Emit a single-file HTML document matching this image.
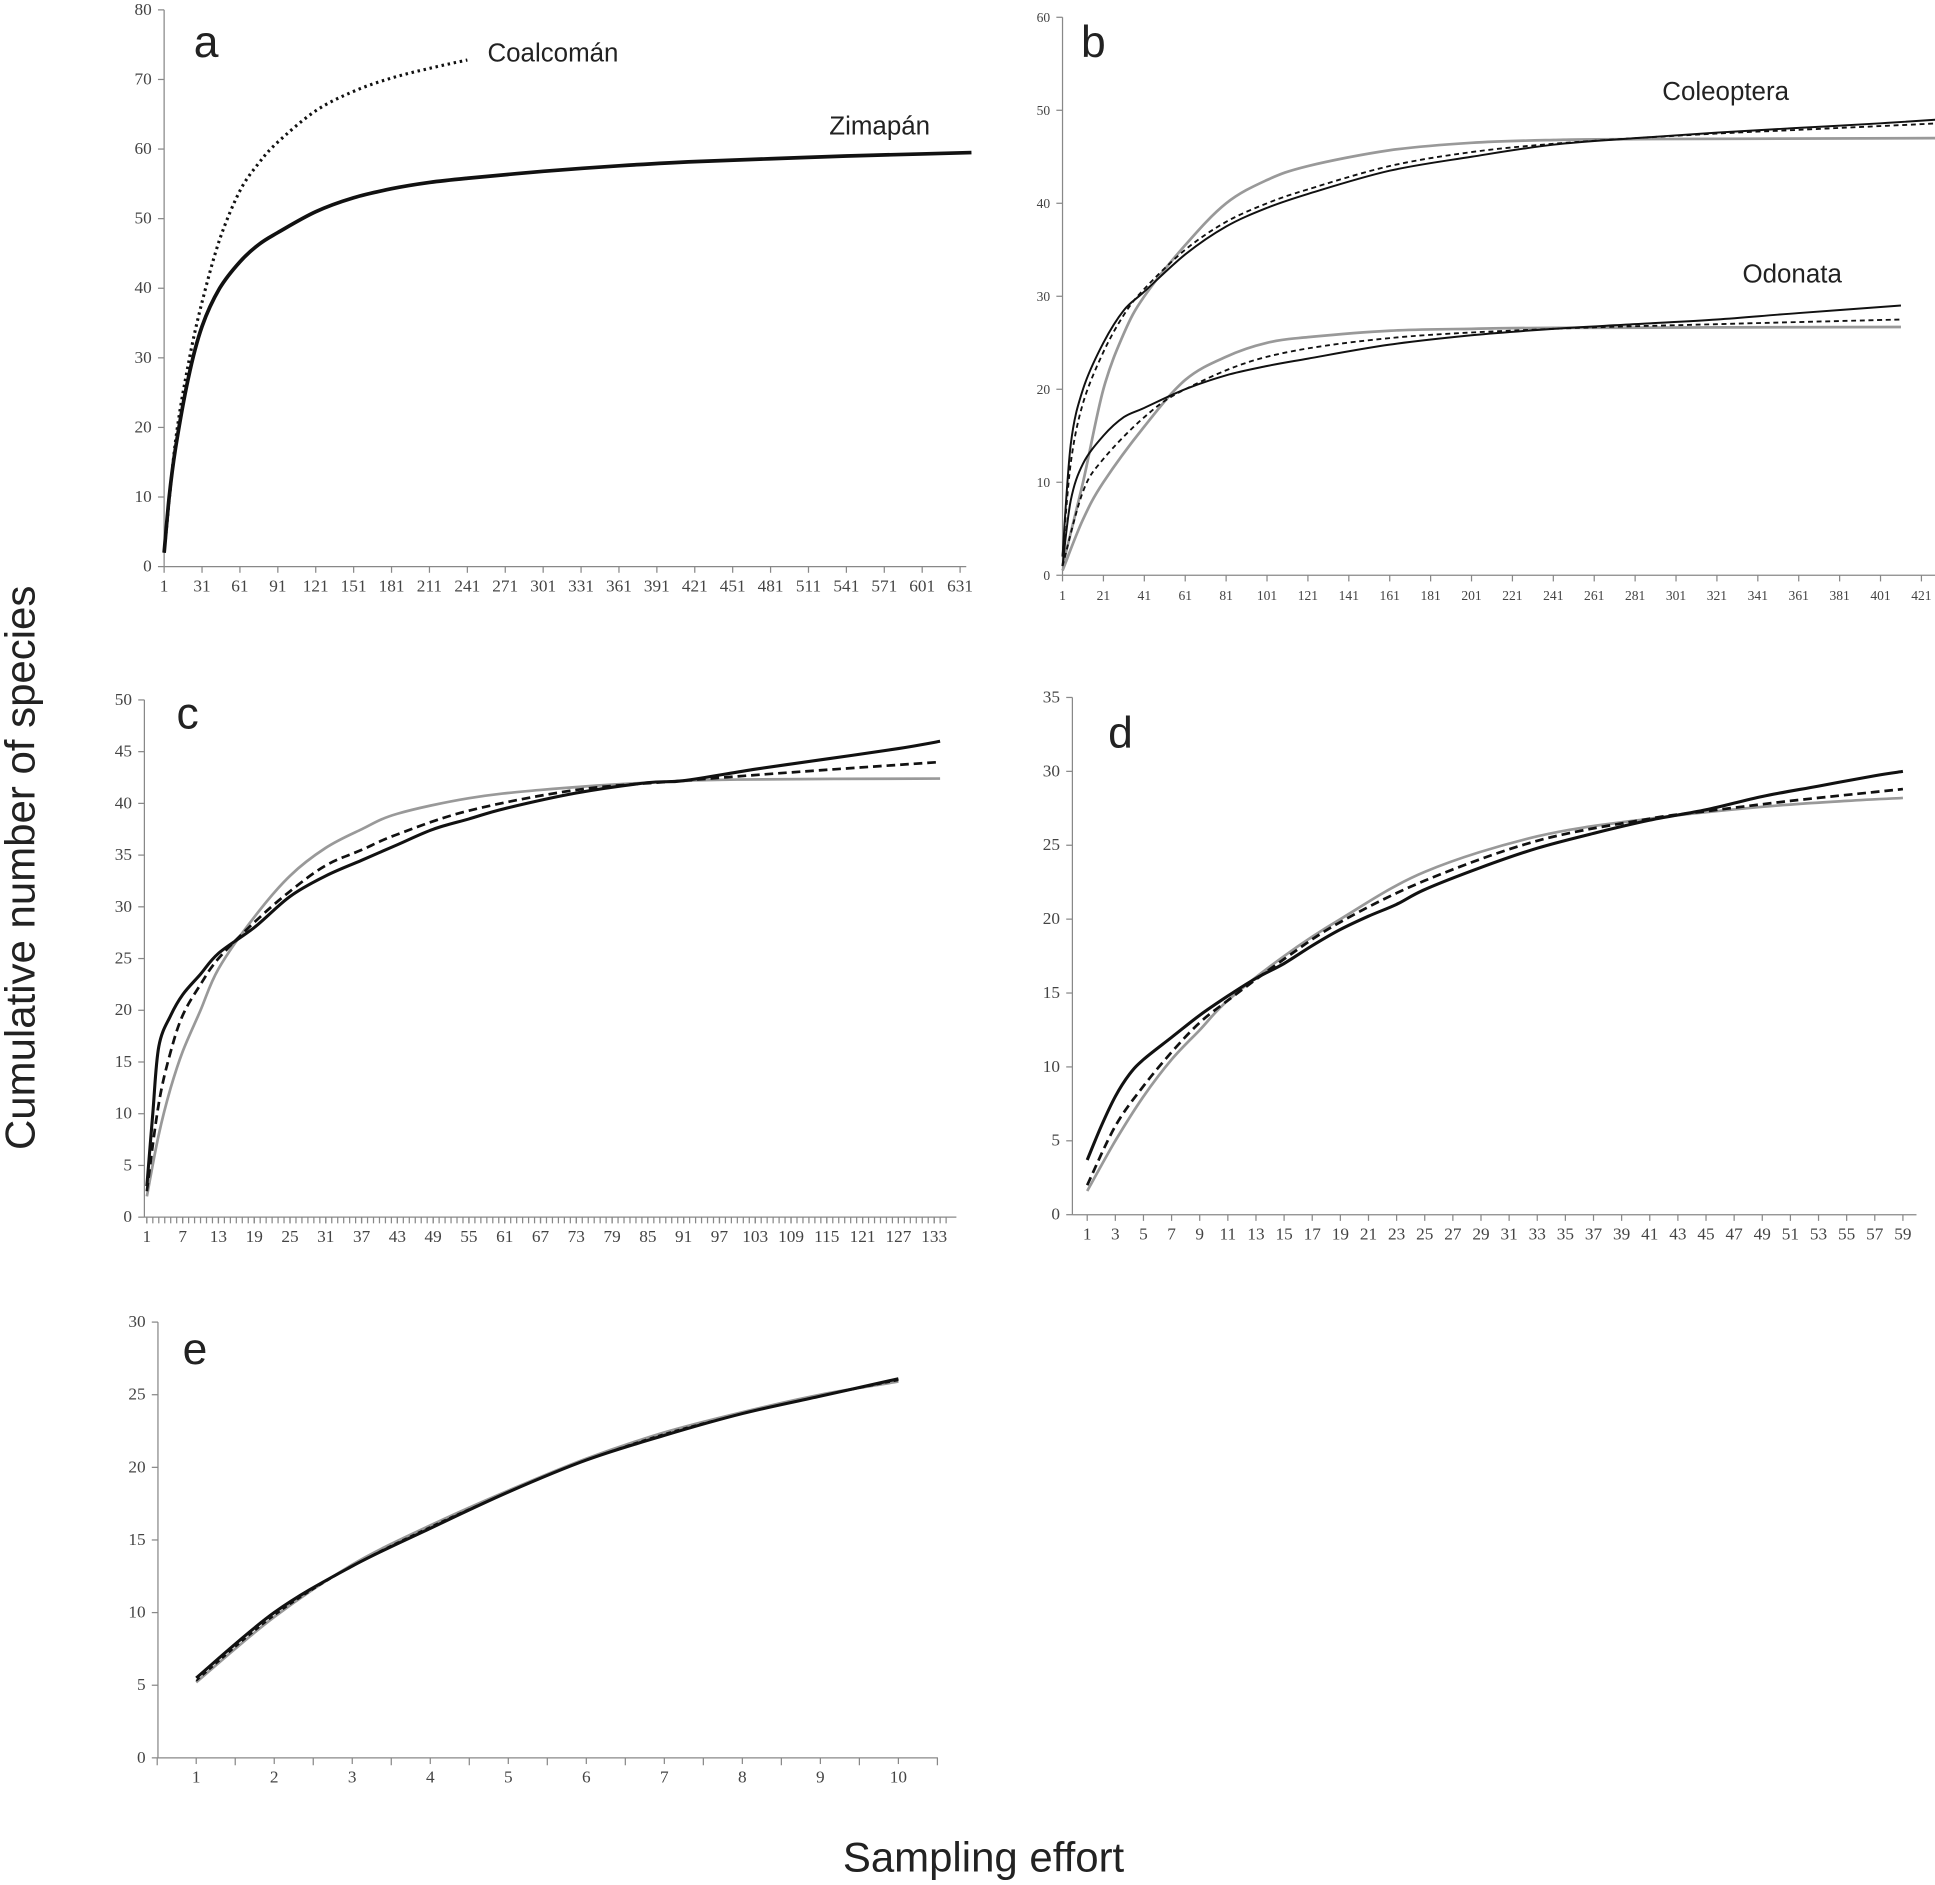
<!DOCTYPE html>
<html><head><meta charset="utf-8"><style>
html,body{margin:0;padding:0;background:#fff;}
svg{display:block;}
text{font-family:"Liberation Serif",serif;fill:#444;}
.big{font-family:"Liberation Sans",sans-serif;fill:#222;}
</style></head><body>
<svg id="chart" width="1935" height="1885" viewBox="0 0 1568 1527" preserveAspectRatio="none" xmlns="http://www.w3.org/2000/svg">
<text class="big" x="0" y="0" font-size="34" text-anchor="middle" transform="translate(28,703) rotate(-90)">Cumulative number of species</text>
<text class="big" x="797" y="1516" font-size="34" text-anchor="middle">Sampling effort</text>
</svg>
<script>
// Panel a
const aZimX=[1,5,10,20,31,45,61,76,91,121,151,181,211,241,301,361,421,481,541,601,640];
const aZimY=[2,10,17,27,34.5,40,43.8,46.3,48,51,53,54.3,55.2,55.8,56.8,57.6,58.2,58.6,59,59.3,59.5];
const aCoaX=[1,10,20,31,45,61,76,91,121,151,181,211,241];
const aCoaY=[2,18,29,38,47,54,58,61,65.5,68.3,70.2,71.6,72.8];
const aXTicks=[1,31,61,91,121,151,181,211,241,271,301,331,361,391,421,451,481,511,541,571,601,631];
const aYTicks=[0,10,20,30,40,50,60,70,80];
// Panel b
const bColBlackX=[1,5,11,21,31,41,61,81,101,121,161,201,241,281,321,361,401,429];
const bColBlackY=[2,14,20,25,28.5,30.5,34.5,37.5,39.5,41,43.5,45,46.3,47,47.6,48.1,48.6,49];
const bColDashX=[1,5,11,21,31,41,61,81,101,121,161,201,241,281,321,361,401,429];
const bColDashY=[2,12,18.5,24,28,30.8,35,38,40,41.5,44,45.5,46.4,47,47.5,47.9,48.3,48.6];
const bColGreyX=[1,11,21,31,41,61,81,101,121,161,201,241,281,429];
const bColGreyY=[1,10,20,26,30,35.5,40,42.5,44,45.7,46.5,46.8,46.9,47];
const bOdoBlackX=[1,5,11,21,31,41,61,81,101,121,161,201,241,281,321,361,411];
const bOdoBlackY=[1,8,12,15,17,18,20,21.5,22.5,23.3,24.8,25.8,26.5,27,27.5,28.2,29];
const bOdoDashX=[1,11,21,41,61,101,161,241,321,411];
const bOdoDashY=[1,9,12.5,17,20,23.5,25.5,26.5,27,27.5];
const bOdoGreyX=[1,11,21,41,61,81,101,121,161,201,241,411];
const bOdoGreyY=[0.5,6,10,16,21,23.5,25,25.6,26.3,26.5,26.6,26.7];
const bXTicks=[1,21,41,61,81,101,121,141,161,181,201,221,241,261,281,301,321,341,361,381,401,421];
const bYTicks=[0,10,20,30,40,50,60];
// Panel c
const cBlackX=[1,2,3,5,7,10,13,19,25,31,37,43,49,55,61,73,85,91,103,115,127,134];
const cBlackY=[3,10,16.5,19.5,21.5,23.5,25.5,28,31,33,34.5,36,37.5,38.5,39.5,41,42,42.2,43.3,44.3,45.3,46];
const cDashX=[1,3,5,7,10,13,19,25,31,37,43,55,73,91,109,134];
const cDashY=[2.5,11,16,19.5,22.5,25,28.5,31.5,34,35.5,37,39.3,41.3,42.2,43,44];
const cGreyX=[1,3,5,7,10,13,19,25,31,37,43,55,67,85,100,134];
const cGreyY=[2,8,12.5,16,20,24,29,33,35.7,37.5,39,40.5,41.3,42,42.3,42.4];
const cXTicks=[1,7,13,19,25,31,37,43,49,55,61,67,73,79,85,91,97,103,109,115,121,127,133];
const cYTicks=[0,5,10,15,20,25,30,35,40,45,50];
// Panel d
const dBlackX=[1,2,3,4,5,7,9,11,13,15,17,19,21,23,25,29,33,37,41,45,49,53,57,59];
const dBlackY=[3.7,6,8,9.5,10.5,12,13.5,14.8,16,17,18.2,19.3,20.2,21,22,23.5,24.8,25.8,26.7,27.4,28.3,29,29.7,30];
const dDashX=[1,3,5,7,9,11,15,19,25,33,41,45,51,57,59];
const dDashY=[2,6,8.7,11,13,14.5,17.3,19.8,22.6,25.3,26.8,27.3,28,28.6,28.8];
const dGreyX=[1,3,5,7,9,11,15,19,25,33,41,49,55,59];
const dGreyY=[1.6,5,8,10.5,12.5,14.5,17.5,20,23.2,25.6,26.8,27.6,28,28.2];
const dXTicks=[1,3,5,7,9,11,13,15,17,19,21,23,25,27,29,31,33,35,37,39,41,43,45,47,49,51,53,55,57,59];
const dYTicks=[0,5,10,15,20,25,30,35];
// Panel e
const eCats=[1,2,3,4,5,6,7,8,9,10];
const eBlackY=[5.5,10,13.2,15.8,18.3,20.5,22.2,23.7,24.9,26.1];
const eDashY=[5.3,9.8,13.2,15.9,18.3,20.5,22.3,23.7,24.9,26];
const eGreyY=[5.2,9.7,13.3,16,18.4,20.6,22.4,23.8,25,25.9];
const eYTicks=[0,5,10,15,20,25,30];

const svg=document.getElementById('chart');
const NS='http://www.w3.org/2000/svg';
function mk(tag,attrs){const e=document.createElementNS(NS,tag);for(const k in attrs)e.setAttribute(k,attrs[k]);svg.appendChild(e);return e;}
function lin(d0,d1,r0,r1){return v=>r0+(v-d0)/(d1-d0)*(r1-r0);}
function smooth(pts){
  let d='M'+pts[0][0].toFixed(1)+','+pts[0][1].toFixed(1);
  for(let i=0;i<pts.length-1;i++){
    const p0=pts[Math.max(0,i-1)],p1=pts[i],p2=pts[i+1],p3=pts[Math.min(pts.length-1,i+2)];
    const c1=[p1[0]+(p2[0]-p0[0])/6,p1[1]+(p2[1]-p0[1])/6];
    const c2=[p2[0]-(p3[0]-p1[0])/6,p2[1]-(p3[1]-p1[1])/6];
    d+=' C'+c1.map(v=>v.toFixed(1)).join(',')+' '+c2.map(v=>v.toFixed(1)).join(',')+' '+p2[0].toFixed(1)+','+p2[1].toFixed(1);
  }
  return d;
}
function axes(p,name){
  let e=mk('line',{x1:p.x0,y1:p.yTop,x2:p.x0,y2:p.yBot,stroke:'#888','stroke-width':1});
  
  
  e=mk('line',{x1:p.x0,y1:p.yBot,x2:p.xEnd,y2:p.yBot,stroke:'#888','stroke-width':1});
  
  
  p.yt.forEach(v=>{
    const y=p.sy(v);
    mk('line',{x1:p.x0-5,y1:y,x2:p.x0,y2:y,stroke:'#888'});
    const t=mk('text',{x:p.x0-10,y:y+4,'font-size':p.fs,'text-anchor':'end'});t.textContent=v;
    
    
  });
  p.xt.forEach(v=>{
    const x=p.sx(v);
    mk('line',{x1:x,y1:p.yBot,x2:x,y2:p.yBot+5,stroke:'#888'});
    const t=mk('text',{x:x,y:p.yBot+20,'font-size':p.fs,'text-anchor':'middle'});t.textContent=v;
    
    
  });
  const L=mk('text',{x:p.lx,y:p.ly,'font-size':36,class:'big'});L.textContent=name.slice(-1);
  
  
}
function series(p,xs,ys,style,name){
  const pts=xs.map((x,i)=>[p.sx(x),p.sy(ys[i])]);
  const e=mk('path',Object.assign({d:smooth(pts),fill:'none'},style));
  
  
}
const BLK={stroke:'#111','stroke-width':2.5};
const DSH={stroke:'#111','stroke-width':2.2,'stroke-dasharray':'7,4'};
const GRY={stroke:'#999','stroke-width':2.2};

// a
const pa={x0:133,xEnd:783,yTop:8,yBot:459,sx:lin(1,631,133,778),sy:lin(0,80,459,8),xt:aXTicks,yt:aYTicks,fs:14,lx:157,ly:46};
axes(pa,'panel-a');
series(pa,aCoaX,aCoaY,{stroke:'#111','stroke-width':2.5,'stroke-dasharray':'2,3'},'coalcoman-line');
series(pa,aZimX,aZimY,{stroke:'#111','stroke-width':3},'zimapan-line');
let t=mk('text',{x:395,y:50,'font-size':21,class:'big'});t.textContent='Coalcomán';

t=mk('text',{x:672,y:109,'font-size':21,class:'big'});t.textContent='Zimapán';


// b
const pb={x0:861,xEnd:1568,yTop:14,yBot:466,sx:lin(1,421,861,1557),sy:lin(0,60,466,14),xt:bXTicks,yt:bYTicks,fs:11,lx:876,ly:46};
axes(pb,'panel-b');
series(pb,bColGreyX,bColGreyY,GRY,'coleoptera-grey-line');
series(pb,bColDashX,bColDashY,{stroke:'#111','stroke-width':1.5,'stroke-dasharray':'4,3'},'coleoptera-dashed-line');
series(pb,bColBlackX,bColBlackY,{stroke:'#111','stroke-width':1.6},'coleoptera-black-line');
series(pb,bOdoGreyX,bOdoGreyY,GRY,'odonata-grey-line');
series(pb,bOdoDashX,bOdoDashY,{stroke:'#111','stroke-width':1.5,'stroke-dasharray':'4,3'},'odonata-dashed-line');
series(pb,bOdoBlackX,bOdoBlackY,{stroke:'#111','stroke-width':1.6},'odonata-black-line');
t=mk('text',{x:1347,y:81,'font-size':21,class:'big'});t.textContent='Coleoptera';

t=mk('text',{x:1412,y:229,'font-size':21,class:'big'});t.textContent='Odonata';


// c
const pc={x0:117,xEnd:775,yTop:567,yBot:986,sx:lin(1,133,119,757),sy:lin(0,50,986,567),xt:cXTicks,yt:cYTicks,fs:14,lx:143,ly:590};
axes(pc,'panel-c');
for(let i=1;i<=135;i++){const x=pc.sx(i);mk('line',{x1:x,y1:986,x2:x,y2:991,stroke:'#888'});}
series(pc,cGreyX,cGreyY,GRY,'c-grey-line');
series(pc,cDashX,cDashY,DSH,'c-dashed-line');
series(pc,cBlackX,cBlackY,BLK,'c-black-line');

// d
const pd={x0:869,xEnd:1553,yTop:565,yBot:984,sx:lin(1,59,881,1542),sy:lin(0,35,984,565),xt:dXTicks,yt:dYTicks,fs:14,lx:898,ly:606};
axes(pd,'panel-d');
series(pd,dGreyX,dGreyY,GRY,'d-grey-line');
series(pd,dDashX,dDashY,DSH,'d-dashed-line');
series(pd,dBlackX,dBlackY,BLK,'d-black-line');

// e
const pe={x0:128,xEnd:760,yTop:1071,yBot:1424,sx:lin(1,10,159,728),sy:lin(0,30,1424,1071),xt:eCats,yt:eYTicks,fs:14,lx:148,ly:1105};
axes(pe,'panel-e');
for(let i=0;i<=10;i++){const x=pe.sx(i+0.5);mk('line',{x1:x,y1:1424,x2:x,y2:1430,stroke:'#888'});}
series(pe,eCats,eGreyY,GRY,'e-grey-line');
series(pe,eCats,eDashY,{stroke:'#111','stroke-width':1.5,'stroke-dasharray':'4,3'},'e-dashed-line');
series(pe,eCats,eBlackY,BLK,'e-black-line');
</script>
</body></html>
